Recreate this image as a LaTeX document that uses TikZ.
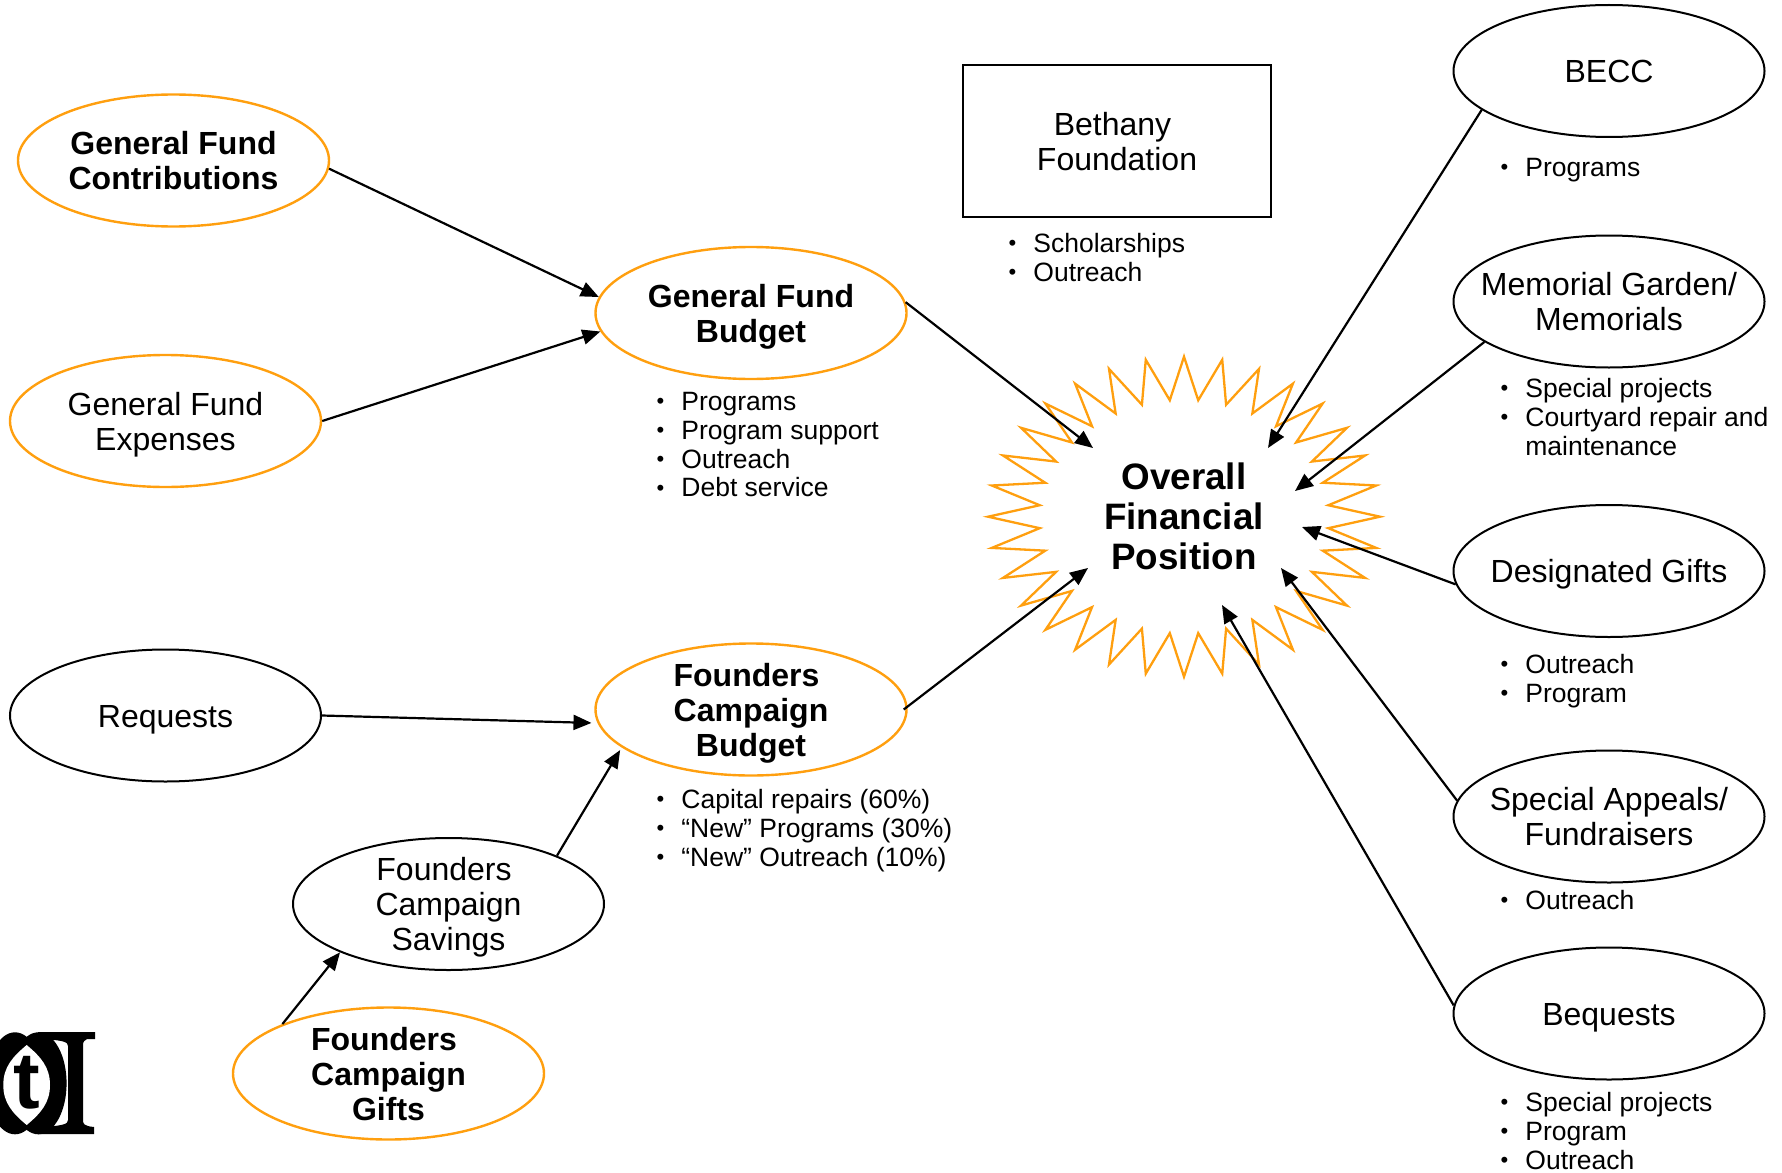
\documentclass[tikz,border=0pt]{standalone}
\usepackage{fontspec}
\setmainfont{Liberation Sans}
\usetikzlibrary{shapes.geometric,arrows.meta}
\definecolor{fundorange}{HTML}{FF9F0F}
\newcommand{\bulletline}[1]{\rule{0pt}{10pt}\hspace*{-0.4pt}\makebox[12.4pt][l]{\raisebox{0.8pt}{\fontsize{11}{11}\selectfont\textbullet}}#1}
\newcommand{\hangline}[1]{\rule{0pt}{10pt}\hspace*{12pt}#1}
\newcommand{\capup}{\rule{0pt}{15pt}}
\tikzset{
  fund/.style={ellipse,draw=black,line width=1pt,minimum width=155.5pt,minimum height=66pt,
    inner sep=-12pt,align=center,font=\fontsize{16}{17.5}\selectfont,
    execute at end node=\rule[-3.5pt]{0pt}{3.5pt}},
  keyfund/.style={fund,draw=fundorange,line width=1.2pt},
  bullets/.style={anchor=north west,inner sep=0pt,align=left,font=\fontsize{13.25}{14.4}\selectfont},
  flow/.style={-{Triangle[length=9pt,width=7.5pt]},line width=1.1pt}
}
\begin{document}
\begin{tikzpicture}[x=0.5pt,y=-0.5pt]
  \useasboundingbox (0,0) rectangle (1782,1172);

  % burst
  \draw[fundorange,line width=1.15pt,miter limit=20]
    plot[samples at={0,...,63},variable=\k]
      ({1184+(mod(\k,2)==0?196:145)*sin(\k*5.625)},{516.7-(mod(\k,2)==0?160:117)*cos(\k*5.625)}) -- cycle;
  \node[align=center,inner sep=0pt,font=\fontsize{18.4}{20}\selectfont\bfseries] (overall) at (1184,516.7) {Overall\\Financial\\Position};

  \coordinate (inbudget)   at (1093,448);
  \coordinate (infounders) at (1088,568);
  \coordinate (inbecc)     at (1268,448);
  \coordinate (ingarden)   at (1295,491);
  \coordinate (indesig)    at (1302,527);
  \coordinate (inappeals)  at (1281,568);
  \coordinate (inbequests) at (1222,605);

  \begin{scope}[every node/.style={keyfund,font=\fontsize{16}{17.5}\selectfont\bfseries}]
    \node (contrib) at (173.5,160.5)  {\capup General Fund\\Contributions};
    \node (budget)  at (751,313) {\capup General Fund\\Budget};
    \node (fcbudget) at (751,709.5) {\capup Founders\hspace*{4.5pt}\\Campaign\\Budget};
    \node (gifts)   at (388.5,1073.5) {\capup Founders\hspace*{4.5pt}\\Campaign\\Gifts};
  \end{scope}

  \begin{scope}[every node/.style={fund}]
    \node[keyfund] (expenses) at (165.5,421) {\capup General Fund\\Expenses};
    \node (requests) at (165.5,715.5)   {\capup Requests};
    \node (savings)  at (448.5,904) {\capup Founders\hspace*{4.5pt}\\Campaign\\Savings};
    \node (becc)     at (1609,71) {\capup BECC};
    \node (garden)   at (1609,301.5)  {\capup Memorial Garden/\\Memorials};
    \node (desig)    at (1609,571) {\capup Designated Gifts};
    \node (appeals)  at (1609,816.5)  {\capup Special Appeals/\\Fundraisers};
    \node (bequests) at (1609,1013.5) {\capup Bequests};
  \end{scope}

  \node[draw,line width=1pt,minimum width=154pt,minimum height=76pt,inner sep=0pt,align=center,
    font=\fontsize{16}{17.5}\selectfont] (bethany) at (1117,141) {\rule{0pt}{12pt}Bethany\hspace*{4.5pt}\\Foundation};

  \begin{scope}[every node/.style={bullets}]
    \node (budgetlist) at (657,390) {\bulletline{Programs}\\\bulletline{Program support}\\\bulletline{Outreach}\\\bulletline{Debt service}};
    \node (fclist) at (657,788) {\bulletline{Capital repairs (60\%)}\\\bulletline{“New” Programs (30\%)}\\\bulletline{“New” Outreach (10\%)}};
    \node (bethanylist) at (1009,232) {\bulletline{Scholarships}\\\bulletline{Outreach}};
    \node (becclist) at (1501,156) {\bulletline{Programs}};
    \node (gardenlist) at (1501,377) {\bulletline{Special projects}\\\bulletline{Courtyard repair and}\\\hangline{maintenance}};
    \node (desiglist) at (1501,653) {\bulletline{Outreach}\\\bulletline{Program}};
    \node (appealslist) at (1501,889) {\bulletline{Outreach}};
    \node (bequestslist) at (1501,1091) {\bulletline{Special projects}\\\bulletline{Program}\\\bulletline{Outreach}};
  \end{scope}

  \begin{scope}[every path/.style={flow}]
    \draw (contrib.-3) -- (budget.174);
    \draw (expenses.east) -- (budget.187);
    \draw (requests.east) -- ([xshift=-3pt]fcbudget.185);
    \draw (savings.24) -- ([xshift=-3pt]fcbudget.198);
    \draw (gifts.155) -- (savings.204);
    \draw (budget.4) -- (inbudget);
    \draw ([xshift=-2pt]fcbudget.east) -- (infounders);
    \draw (becc.197) -- (inbecc);
    \draw (garden.198) -- (ingarden);
    \draw (desig.185) -- (indesig);
    \draw (appeals.174) -- (inappeals);
    \draw (bequests.177) -- (inbequests);
  \end{scope}

  % logo
  \begin{scope}
    \clip (0,1000) rectangle (120,1160);
    \fill (15,1083.3) ellipse [x radius=28.3,y radius=51];
    \fill (38.3,1083.3) ellipse [x radius=28.3,y radius=51];
    \fill[white] (26.7,1045) to[out=-40,in=90] (50,1085) to[out=-90,in=40] (26.7,1125)
      to[out=140,in=-90] (3.3,1085) to[out=90,in=-140] cycle;
    \fill (38,1032) -- (95,1032) -- (95,1039) -- (87,1039) .. controls (84,1040) and (83,1042) .. (83,1046)
      -- (83,1120) .. controls (83,1124) and (84,1126) .. (94,1127) -- (94,1134) -- (38,1134) -- (38,1127)
      .. controls (64,1126) and (68,1124) .. (68,1120) -- (68,1046) .. controls (68,1042) and (64,1040) .. (38,1039) -- cycle;
    \node[inner sep=0pt,font=\fontsize{40}{40}\selectfont\bfseries] (logot) at (27,1083) {t};
  \end{scope}
\end{tikzpicture}
\end{document}
